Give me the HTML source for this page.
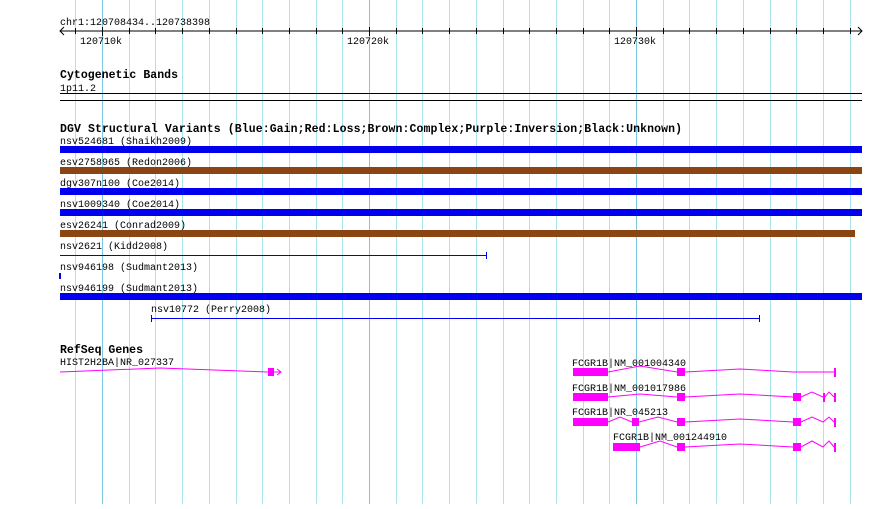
<!DOCTYPE html>
<html><head><meta charset="utf-8"><style>
body{margin:0;background:#fff}
text{font-family:"Liberation Mono",monospace;font-size:10px;fill:#000}
.b{font-weight:bold;font-size:11.5px}
</style></head><body>
<svg width="890" height="504" xmlns="http://www.w3.org/2000/svg">
<g id="grid" stroke="#a8e4ee" stroke-width="1"></g>
<line x1="60" y1="31" x2="862" y2="31" stroke="#000"/>
<path d="M64,27 L60,31 L64,35" fill="none" stroke="#000"/>
<path d="M858,27 L862,31 L858,35" fill="none" stroke="#000"/>
<g id="ticks" stroke="#000"></g>
<text x="60" y="25" textLength="150">chr1:120708434..120738398</text>
<text x="80" y="44" textLength="42">120710k</text>
<text x="347" y="44" textLength="42">120720k</text>
<text x="614" y="44" textLength="42">120730k</text>
<text class="b" x="60" y="78" textLength="118">Cytogenetic Bands</text>
<text x="60" y="91" textLength="36">1p11.2</text>
<line x1="60" y1="93.5" x2="862" y2="93.5" stroke="#000"/>
<line x1="60" y1="100.5" x2="862" y2="100.5" stroke="#000"/>
<text class="b" x="60" y="132" textLength="622">DGV Structural Variants (Blue:Gain;Red:Loss;Brown:Complex;Purple:Inversion;Black:Unknown)</text>
<text x="60" y="144">nsv524681 (Shaikh2009)</text>
<rect x="60" y="146" width="802" height="7" fill="#0000ee"/>
<text x="60" y="165">esv2758965 (Redon2006)</text>
<rect x="60" y="167" width="802" height="7" fill="#8b4513"/>
<text x="60" y="186">dgv307n100 (Coe2014)</text>
<rect x="60" y="188" width="802" height="7" fill="#0000ee"/>
<text x="60" y="207">nsv1009340 (Coe2014)</text>
<rect x="60" y="209" width="802" height="7" fill="#0000ee"/>
<text x="60" y="228">esv26241 (Conrad2009)</text>
<rect x="60" y="230" width="795" height="7" fill="#8b4513"/>
<text x="60" y="249">nsv2621 (Kidd2008)</text>
<line x1="60" y1="255.5" x2="487" y2="255.5" stroke="#0000ee"/>
<line x1="486.5" y1="252" x2="486.5" y2="259" stroke="#0000ee"/>
<text x="60" y="270">nsv946198 (Sudmant2013)</text>
<rect x="59" y="273" width="2" height="6" fill="#0000ee"/>
<text x="60" y="291">nsv946199 (Sudmant2013)</text>
<rect x="60" y="293" width="802" height="7" fill="#0000ee"/>
<text x="151" y="312">nsv10772 (Perry2008)</text>
<line x1="151" y1="318.5" x2="760" y2="318.5" stroke="#0000ee"/>
<line x1="151.5" y1="315" x2="151.5" y2="322" stroke="#0000ee"/>
<line x1="759.5" y1="315" x2="759.5" y2="322" stroke="#0000ee"/>
<text class="b" x="60" y="353" textLength="83">RefSeq Genes</text>
<text x="60" y="365">HIST2H2BA|NR_027337</text>
<g fill="none" stroke="#ff00ff">
<polyline points="60,372 160,368 268,372"/>
<polyline points="274,372 281,372"/><path d="M277,369 L281,372 L277,375"/>
<polyline points="608,372 640,366 677,372 685,372 740,369 793,372 834,372"/>
<polyline points="608,397 640,394 677,397 685,397 740,394 793,397 801,397 812,392 823,397 825,397 829,392 834,397"/>
<polyline points="608,422 620,417 632,422 639,422 658,417 677,422 685,422 740,419 793,422 801,422 812,417 823,422 829,417 834,422"/>
<polyline points="640,447 660,441 677,447 685,447 740,444 793,447 801,447 812,441 823,447 829,441 834,447"/>
</g>
<g fill="#ff00ff">
<rect x="268" y="368" width="6" height="8"/>
<rect x="573" y="368" width="35" height="8"/><rect x="677" y="368" width="8" height="8"/><rect x="834" y="368" width="2" height="9"/>
<rect x="573" y="393" width="35" height="8"/><rect x="677" y="393" width="8" height="8"/><rect x="793" y="393" width="8" height="8"/><rect x="823" y="393" width="2" height="9"/><rect x="834" y="393" width="2" height="9"/>
<rect x="573" y="418" width="35" height="8"/><rect x="632" y="418" width="7" height="8"/><rect x="677" y="418" width="8" height="8"/><rect x="793" y="418" width="8" height="8"/><rect x="834" y="418" width="2" height="9"/>
<rect x="613" y="443" width="27" height="8"/><rect x="677" y="443" width="8" height="8"/><rect x="793" y="443" width="8" height="8"/><rect x="834" y="443" width="2" height="9"/>
</g>
<text x="572" y="366">FCGR1B|NM_001004340</text>
<text x="572" y="391">FCGR1B|NM_001017986</text>
<text x="572" y="415">FCGR1B|NR_045213</text>
<text x="613" y="440">FCGR1B|NM_001244910</text>
</svg>
<script>
var g=document.getElementById('grid'),t=document.getElementById('ticks'),ns='http://www.w3.org/2000/svg';
for(var i=-2;i<29;i++){var x=Math.round(102+i*26.7)+0.5;if(x<58||x>864)continue;
var l=document.createElementNS(ns,'line');l.setAttribute('x1',x);l.setAttribute('x2',x);l.setAttribute('y1',0);l.setAttribute('y2',504);
if((i%10+10)%10==0)l.setAttribute('stroke','#7cc8e0');g.appendChild(l);
var k=document.createElementNS(ns,'line');k.setAttribute('x1',x);k.setAttribute('x2',x);
var big=(i%10+10)%10==0;k.setAttribute('y1',big?27:28);k.setAttribute('y2',big?36:34);t.appendChild(k);}
</script>
</body></html>
